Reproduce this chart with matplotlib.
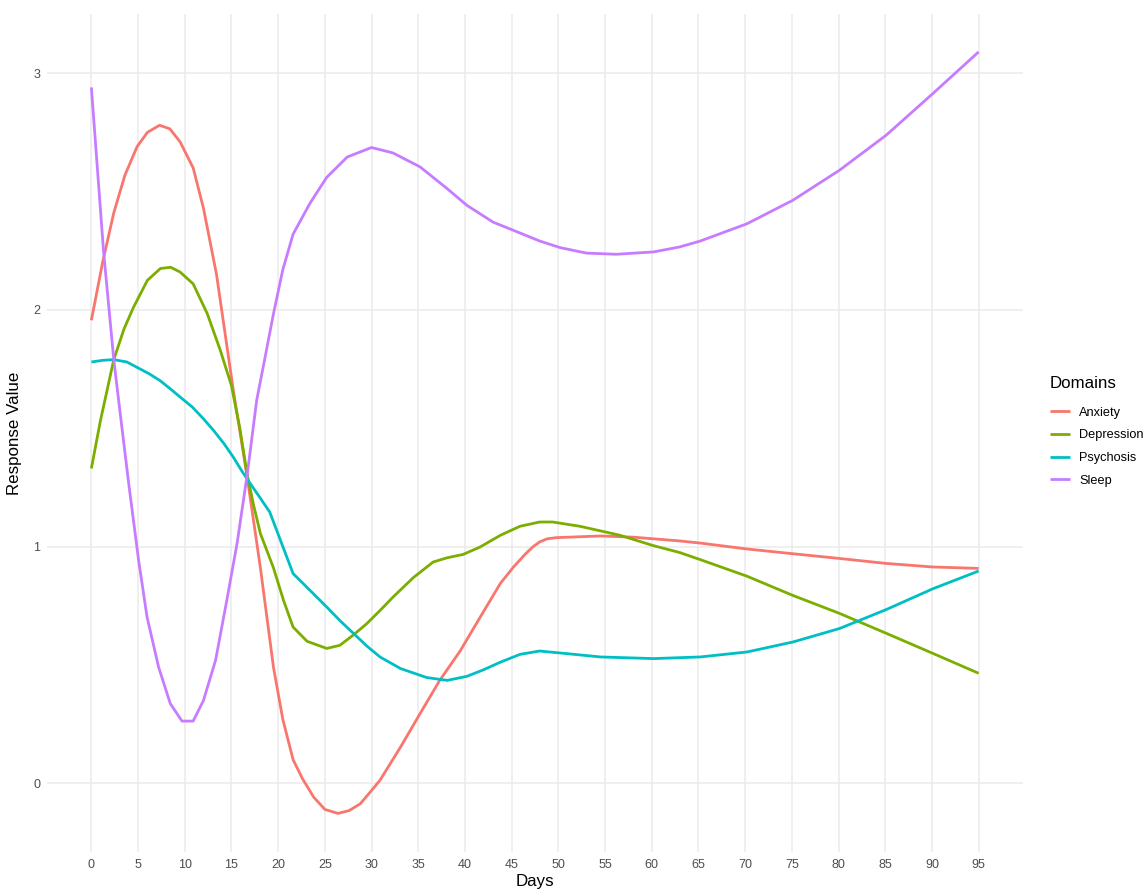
import matplotlib
matplotlib.use("Agg")
import matplotlib.pyplot as plt

plt.rcParams["font.family"] = ["Liberation Sans", "DejaVu Sans"]

# ---- data ----
anx_days = [0, 1.2, 2.4, 3.6, 4.9, 6.0, 7.3, 8.4, 9.5, 10.9, 12.0, 13.4, 15.2, 16.7, 18.1, 19.5,
            20.5, 21.6, 22.6, 23.8, 25.0, 26.4, 27.6, 28.8, 30.0, 30.9, 33.1, 35.2, 37.3, 39.5,
            41.6, 43.8, 45.2, 46.5, 47.3, 48.0, 48.8, 49.8, 54.5, 58, 63, 65.2, 70.2, 75.1, 80.1, 85.1, 90.1, 95]
anx_vals = [1.956, 2.20, 2.41, 2.57, 2.69, 2.75, 2.78, 2.765, 2.71, 2.60, 2.43, 2.15, 1.66, 1.29, 0.91, 0.49,
            0.27, 0.10, 0.02, -0.058, -0.11, -0.127, -0.115, -0.086, -0.03, 0.013, 0.153, 0.295, 0.435, 0.56,
            0.70, 0.845, 0.914, 0.97, 1.0, 1.02, 1.033, 1.038, 1.045, 1.04, 1.024, 1.015, 0.99, 0.97, 0.95, 0.929, 0.914, 0.908]

dep_days = [0, 0.96, 2.4, 3.5, 4.5, 6.0, 7.4, 8.5, 9.5, 10.9, 12.4, 13.8, 15.0, 15.9, 16.7, 17.4, 18.1, 19.5,
            20.6, 21.6, 23.1, 25.2, 26.6, 28.0, 29.5, 30.9, 32.3, 34.5, 36.6, 38.1, 39.8, 41.6, 43.8,
            45.9, 48.0, 49.4, 52.3, 56.6, 60.1, 63, 65.2, 70.2, 75.1, 80.1, 85.1, 90.1, 95]
dep_vals = [1.33, 1.53, 1.79, 1.92, 2.01, 2.125, 2.175, 2.18, 2.16, 2.11, 1.985, 1.83, 1.68, 1.50, 1.30, 1.17, 1.055, 0.91,
            0.77, 0.66, 0.60, 0.57, 0.583, 0.625, 0.675, 0.73, 0.787, 0.87, 0.935, 0.953, 0.967, 0.998, 1.048,
            1.086, 1.104, 1.104, 1.086, 1.048, 1.005, 0.975, 0.945, 0.875, 0.794, 0.718, 0.634, 0.549, 0.465]

psy_days = [0, 1.2, 2.4, 3.8, 5.0, 6.2, 7.4, 8.5, 9.5, 10.8, 12.0, 13.1, 14.2, 15.2, 16.1, 17.0, 18.0,
            19.1, 21.6, 22.4, 23.8, 25.2, 26.6, 28.1, 29.5, 30.9, 33.1, 35.9, 38.1, 40.2, 42.0, 43.8,
            45.9, 48.0, 50.9, 54.5, 60.2, 65.2, 70.2, 75.1, 80.1, 85.1, 90.1, 95]
psy_vals = [1.78, 1.787, 1.79, 1.78, 1.755, 1.73, 1.70, 1.665, 1.632, 1.59, 1.54, 1.49, 1.435, 1.378, 1.32, 1.267, 1.21,
            1.146, 0.886, 0.855, 0.80, 0.745, 0.688, 0.632, 0.58, 0.534, 0.485, 0.447, 0.435, 0.452, 0.48, 0.512,
            0.545, 0.559, 0.548, 0.534, 0.527, 0.534, 0.555, 0.597, 0.654, 0.734, 0.822, 0.897]

slp_days = [0, 1.3, 2.4, 2.92, 4.0, 5.06, 5.96, 7.2, 8.45, 9.7, 10.9, 12.0, 13.3, 14.5, 15.6, 16.7, 17.7,
            18.6, 19.5, 20.5, 21.6, 23.4, 25.2, 27.4, 30.0, 32.3, 35.2, 38.1, 40.2, 43.0, 45.2, 48.0,
            50.2, 53.0, 56.2, 60.2, 63.0, 65.2, 70.2, 75.1, 80.1, 85.1, 90.1, 95]
slp_vals = [2.94, 2.25, 1.79, 1.618, 1.266, 0.942, 0.703, 0.491, 0.337, 0.263, 0.263, 0.35, 0.52, 0.773, 1.013, 1.308, 1.618,
            1.80, 1.984, 2.17, 2.32, 2.45, 2.56, 2.646, 2.686, 2.663, 2.604, 2.512, 2.442, 2.371, 2.336, 2.291,
            2.263, 2.24, 2.235, 2.245, 2.266, 2.291, 2.364, 2.463, 2.59, 2.738, 2.914, 3.09]

domains = ["Anxiety", "Depression", "Psychosis", "Sleep"]
colors = ["#F8766D", "#7CAE00", "#00BFC4", "#C77CFF"]
x_ticks = list(range(0, 96, 5))
y_ticks = [0, 1, 2, 3]

series = [(anx_days, anx_vals), (dep_days, dep_vals), (psy_days, psy_vals), (slp_days, slp_vals)]

fig = plt.figure(figsize=(11.47, 8.93), dpi=100)
ax = fig.add_axes([47 / 1147, 41 / 893, 976 / 1147, 838 / 893])

for (d, v), name, c in zip(series, domains, colors):
    ax.plot(d, v, color=c, lw=2.0, label=name, solid_joinstyle="round", solid_capstyle="butt")

ax.set_xlim(-4.75, 99.75)
ax.set_ylim(-0.29, 3.25)
ax.set_xticks(x_ticks)
ax.set_yticks(y_ticks)
ax.grid(True, color="#EBEBEB", lw=1.1)
ax.set_axisbelow(True)
for s in ax.spines.values():
    s.set_visible(False)
ax.tick_params(length=0, labelsize=9, labelcolor="#4D4D4D", pad=5)
ax.set_xlabel("Days", fontsize=12.2, labelpad=2)
ax.set_ylabel("Response Value", fontsize=12.2, labelpad=8)

leg = ax.legend(title="Domains", frameon=False, loc="upper left",
                bbox_to_anchor=(1050 / 1147, 1 - 376 / 893), bbox_transform=fig.transFigure,
                fontsize=9.2, title_fontsize=12.2, handlelength=1.6, labelspacing=0.84,
                handletextpad=0.7, borderaxespad=0, borderpad=0)
leg._legend_box.align = "left"
leg._legend_box.sep = 0.84 * 9.2 + 3.5

fig.savefig("out.png", dpi=100)
